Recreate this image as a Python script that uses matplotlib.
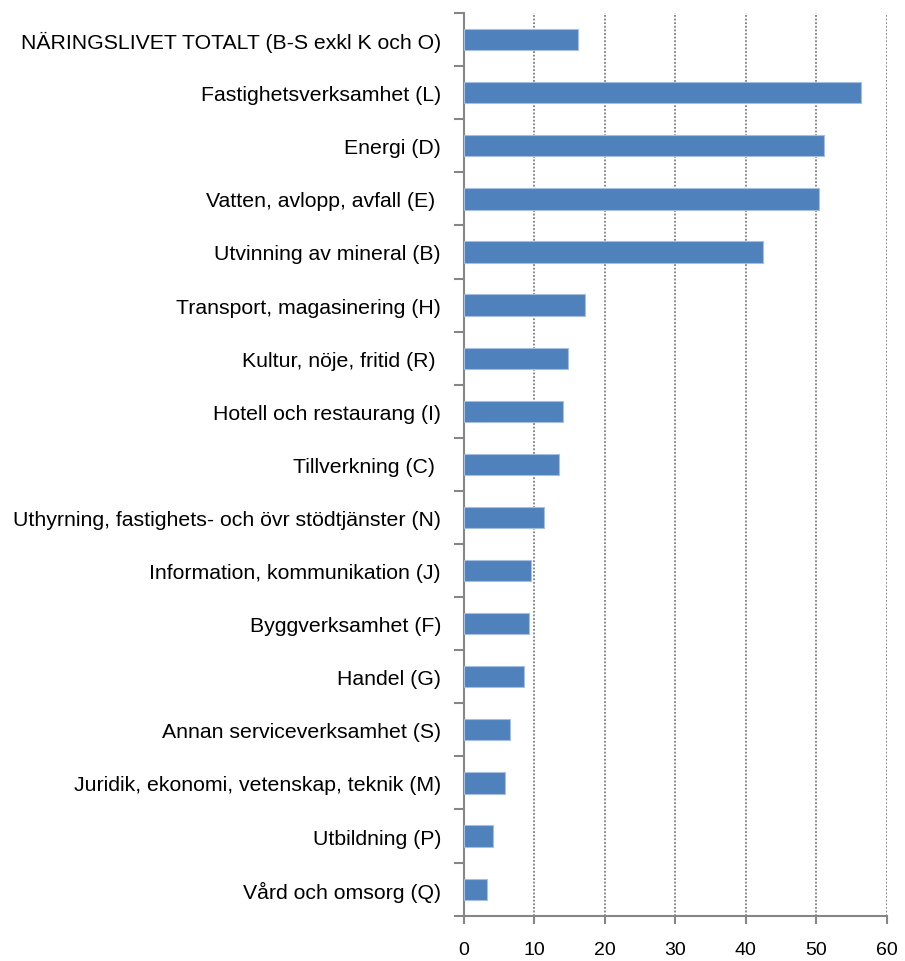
import matplotlib
matplotlib.use("Agg")
import matplotlib.pyplot as plt

categories = [
    "NÄRINGSLIVET TOTALT (B-S exkl K och O)",
    "Fastighetsverksamhet (L)",
    "Energi (D)",
    "Vatten, avlopp, avfall (E) ",
    "Utvinning av mineral (B)",
    "Transport, magasinering (H)",
    "Kultur, nöje, fritid (R) ",
    "Hotell och restaurang (I)",
    "Tillverkning (C) ",
    "Uthyrning, fastighets- och övr stödtjänster (N)",
    "Information, kommunikation (J)",
    "Byggverksamhet (F)",
    "Handel (G)",
    "Annan serviceverksamhet (S)",
    "Juridik, ekonomi, vetenskap, teknik (M)",
    "Utbildning (P)",
    "Vård och omsorg (Q)",
]
values = [16.2, 56.4, 51.1, 50.4, 42.4, 17.2, 14.7, 14.1, 13.5, 11.3,
          9.55, 9.27, 8.56, 6.48, 5.87, 4.16, 3.31]
xticks = [0, 10, 20, 30, 40, 50, 60]

plt.rcParams['font.family'] = ['Liberation Sans', 'DejaVu Sans']

fig = plt.figure(figsize=(9.05, 9.62), dpi=100)
ax = fig.add_axes([0.5127, 0.0471, 0.9798 - 0.5127, 0.9854 - 0.0471])

n = len(categories)
ypos = list(range(n))
ax.barh(ypos, values, height=0.4, color="#4F81BD", edgecolor="#A7BFDE",
        linewidth=0.8, zorder=3)
ax.set_ylim(n - 0.5, -0.5)
ax.set_xlim(0, 60)

ax.set_yticks(ypos)
ax.set_yticklabels(categories, fontsize=15.3)
ax.set_yticks([i - 0.5 for i in range(n + 1)], minor=True)
ax.tick_params(axis='y', which='major', length=0, pad=16.5)
ax.tick_params(axis='y', which='minor', length=7, width=1.5, color="#868686")

ax.set_xticks(xticks)
ax.set_xticklabels([str(t) for t in xticks], fontsize=14)
ax.tick_params(axis='x', length=6, width=1.5, color="#868686", pad=12.5)

ax.grid(axis='x', linestyle=(0, (1, 1)), color="#7F7F7F", linewidth=1.3, zorder=0)

for s in ['top', 'right']:
    ax.spines[s].set_visible(False)
for s in ['left', 'bottom']:
    ax.spines[s].set_color("#868686")
    ax.spines[s].set_linewidth(1.5)

fig.savefig("out.png", dpi=100)
